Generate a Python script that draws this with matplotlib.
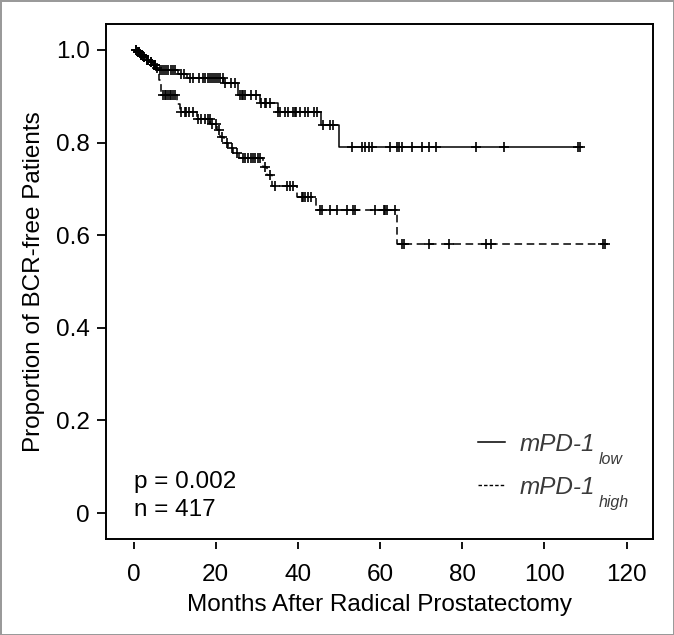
import numpy as np
import matplotlib
matplotlib.use("Agg")
import matplotlib.pyplot as plt
from matplotlib.lines import Line2D
from matplotlib.transforms import offset_copy

plt.rcParams['font.family'] = ['Liberation Sans', 'DejaVu Sans']

# Kaplan-Meier steps (months, proportion)
low_times = [0, 0.8, 1.5, 2.3, 3.0, 3.8, 4.6, 5.4, 6.0, 10.8, 13.0, 21.8, 25.3, 30.7, 35.1, 45.7, 50.1]
low_surv = [1.0, 0.995, 0.99, 0.985, 0.979, 0.973, 0.967, 0.962, 0.957, 0.948, 0.939, 0.928, 0.903, 0.885, 0.867, 0.837, 0.791]
low_end = 108.6
low_censor = [0.5, 1.0, 1.3, 1.8, 2.1, 2.6, 3.3, 3.6, 4.2, 4.9, 5.2, 5.7,
              6.5, 7.0, 7.5, 8.0, 8.5, 9.0, 9.5, 10.0, 11.5, 12.2, 13.8, 14.5,
              16.0, 17.0, 17.5, 18.0, 18.5, 19.0, 19.5, 20.0, 20.5, 21.0,
              21.7, 22.2, 23.8, 24.6, 25.8, 26.3, 26.7, 27.1, 28.7, 29.9,
              31.1, 31.9, 32.3, 33.1, 35.2, 35.6, 36.8, 37.7, 38.8, 39.2, 39.6,
              40.4, 41.7, 42.5, 43.8, 44.6, 46.1, 47.8, 48.6,
              53.2, 55.6, 56.4, 57.2, 58.0, 62.5, 64.2, 64.6, 65.4, 67.8,
              70.3, 71.9, 73.5, 83.3, 90.1, 108.2, 108.6]

high_times = [0, 0.8, 1.5, 2.3, 3.0, 3.8, 4.6, 5.4, 5.8, 6.2, 6.6, 10.6, 11.3, 15.4, 18.6,
              20.3, 21.0, 22.0, 23.0, 24.2, 25.6, 31.4, 32.5, 33.6, 39.7, 44.4, 64.2]
high_surv = [1.0, 0.995, 0.99, 0.985, 0.979, 0.973, 0.967, 0.962, 0.95, 0.935, 0.903, 0.884,
             0.865, 0.851, 0.84, 0.827, 0.813, 0.799, 0.788, 0.777, 0.766, 0.748, 0.730,
             0.707, 0.683, 0.654, 0.582]
high_end = 115.6
high_censor = [0.5, 1.0, 1.3, 1.8, 2.1, 2.6, 3.3, 3.6, 4.2, 4.9, 5.2,
               7.2, 7.6, 8.0, 8.4, 8.8, 9.2, 9.6, 10.0,
               11.6, 12.4, 12.8, 13.6, 14.4, 15.6, 16.5, 17.3, 18.1, 18.5,
               19.2, 20.0, 20.8, 21.6, 22.8, 24.0, 25.2,
               26.7, 27.1, 27.9, 28.7, 29.1, 29.5, 30.3, 30.7, 32.0, 33.1,
               34.4, 37.3, 38.1, 38.9, 40.9, 41.3, 41.7, 42.5, 43.3,
               45.4, 45.8, 47.8, 49.5, 51.9, 53.5, 53.9, 58.8, 61.0, 61.3, 61.7, 63.7,
               65.4, 65.8, 71.9, 76.8, 85.7, 86.9, 114.3, 114.7]

p_text = "p = 0.002"
n_text = "n = 417"
label_main = "mPD-1"
label_subs = ["low", "high"]
xticks = [0, 20, 40, 60, 80, 100, 120]
yticks = [0, 0.2, 0.4, 0.6, 0.8, 1.0]
ytick_labels = ["0", "0.2", "0.4", "0.6", "0.8", "1.0"]


def km_curve(times, surv, end):
    x = list(times) + [end]
    y = list(surv) + [surv[-1]]
    return x, y


def level_at(times, surv, t):
    idx = np.searchsorted(times, t, side='right') - 1
    return np.array(surv)[idx]


fig = plt.figure(figsize=(6.74, 6.35), dpi=100)
fig.patch.set_edgecolor('#9a9a9a')
fig.patch.set_linewidth(2)
ax = fig.add_axes([0.1573, 0.1512, 0.8115, 0.811])

fs = 17.5
x, y = km_curve(low_times, low_surv, low_end)
ax.step(x, y, where='post', color='black', lw=1.1)
ax.plot(low_censor, level_at(low_times, low_surv, low_censor), ls='none',
        marker='+', ms=7, mew=1.2, color='black')

x, y = km_curve(high_times, high_surv, high_end)
ax.step(x, y, where='post', color='black', lw=1.1, dashes=(5, 3))
ax.plot(high_censor, level_at(high_times, high_surv, high_censor), ls='none',
        marker='+', ms=7, mew=1.2, color='black')

ax.set_xlim(-6.7, 126.4)
ax.set_ylim(-0.056, 1.056)
ax.set_xticks(xticks)
ax.set_yticks(yticks)
ax.set_yticklabels(ytick_labels)
ax.tick_params(axis='both', direction='out', width=1.3, labelsize=fs, color='black')
ax.tick_params(axis='y', length=6.5, pad=5)
ax.tick_params(axis='x', length=5, pad=11)

for side in ['top', 'left', 'right']:
    ax.spines[side].set_linewidth(1.4)
# bottom spine moved a little down so the x ticks stand apart from the box
ax.spines['bottom'].set_position(('outward', 2))
ax.spines['bottom'].set_visible(False)
ax.plot([0, 1], [0, 0], transform=ax.transAxes, color='black', lw=1.4,
        clip_on=False, solid_capstyle='projecting')

ax.set_xlabel("Months After Radical Prostatectomy", fontsize=fs, labelpad=6)
ax.set_ylabel("Proportion of BCR-free Patients", fontsize=fs, labelpad=8)

ax.text(0, 0.054, p_text, fontsize=fs, va='baseline', ha='left')
ax.text(0, -0.0065, n_text, fontsize=fs, va='baseline', ha='left')

handles = [Line2D([], [], color='black', lw=1.1),
           Line2D([], [], color='black', lw=1.0, dashes=(2.5, 1.5))]
leg = fig.legend(handles, [label_main, label_main], loc='upper left',
                 bbox_to_anchor=(478 / 674, 1 - 433 / 635), frameon=False,
                 prop={'size': fs, 'style': 'italic'}, handlelength=1.1,
                 handletextpad=0.62, labelspacing=0.82, labelcolor='#3a3a3a',
                 borderaxespad=0.0, borderpad=0.0)
fig.canvas.draw()
renderer = fig.canvas.get_renderer()
for txt, sub in zip(leg.get_texts(), label_subs):
    bb = txt.get_window_extent(renderer)
    tr = offset_copy(fig.transFigure, fig=fig, x=3, y=-8, units='dots')
    fig.text(bb.x1 / fig.bbox.width, bb.y0 / fig.bbox.height, sub, transform=tr,
             fontsize=fs * 0.66, style='italic', color='#3a3a3a', va='baseline')

fig.savefig("out.png", dpi=100)
